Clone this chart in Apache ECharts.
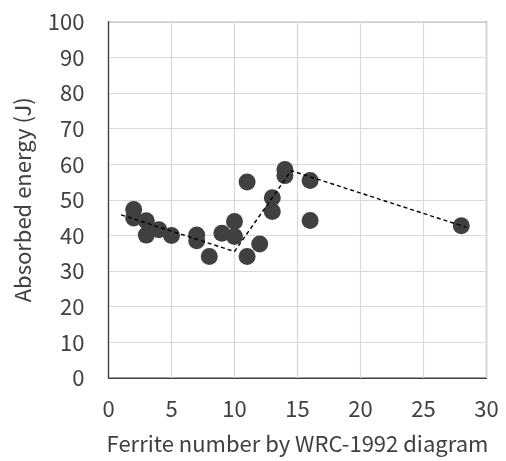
<!DOCTYPE html>
<html>
<head>
<meta charset="utf-8">
<script src="https://cdn.jsdelivr.net/npm/echarts@6/dist/echarts.min.js"></script>
<style>
  html, body { margin: 0; padding: 0; background: #fff; }
  #chart { width: 506px; height: 461px; }
</style>
</head>
<body>
<div id="chart"></div>
<script>
// Ferrite number (WRC-1992) vs. Charpy absorbed energy
const ferriteNumber = [2, 2, 3, 3, 4, 5, 7, 7, 8, 9, 10, 10, 11, 11, 12, 13, 13, 14, 14, 16, 16, 28];
const absorbedEnergy = [47.3, 44.9, 44.1, 40.1, 41.6, 40.0, 40.1, 38.5, 34.1, 40.6, 43.9, 39.7, 55.0, 34.1, 37.6, 50.6, 46.7, 58.5, 56.8, 55.4, 44.2, 42.7];

// Dashed trend guide through the three regimes
const trendX = [1, 10, 14.5, 28.4];
const trendY = [45.8, 35.5, 58.2, 42.3];

const xTicks = { min: 0, max: 30, interval: 5 };
const yTicks = { min: 0, max: 100, interval: 10 };

const points = ferriteNumber.map((x, i) => [x, absorbedEnergy[i]]);
const trend = trendX.map((x, i) => [x, trendY[i]]);

const fontFamily = '"Noto Sans CJK JP", "Noto Sans", sans-serif';
const textColor = '#404040';
const fontSize = 22;

const chart = echarts.init(document.getElementById('chart'), null, { renderer: 'canvas' });
chart.setOption({
  animation: false,
  backgroundColor: '#ffffff',
  grid: { left: 108.5, right: 19.5, top: 21.7, bottom: 83, containLabel: false,
          show: true, borderColor: '#404040', borderWidth: 1.2 },
  xAxis: {
    type: 'value',
    min: xTicks.min, max: xTicks.max, interval: xTicks.interval,
    name: 'Ferrite number by WRC-1992 diagram',
    nameLocation: 'middle', nameGap: 55,
    nameTextStyle: { fontFamily, fontSize, color: textColor },
    axisLine: { show: true, onZero: false, lineStyle: { color: '#404040', width: 1.2 } },
    axisTick: { show: false },
    axisLabel: { margin: 20, fontFamily, fontSize, color: textColor },
    splitLine: { show: true, lineStyle: { color: '#d9d9d9', width: 1.2 } }
  },
  yAxis: {
    type: 'value',
    min: yTicks.min, max: yTicks.max, interval: yTicks.interval,
    name: 'Absorbed energy (J)',
    nameLocation: 'middle', nameGap: 75, nameRotate: 90,
    nameTextStyle: { fontFamily, fontSize, color: textColor },
    axisLine: { show: true, onZero: false, lineStyle: { color: '#404040', width: 1.2 } },
    axisTick: { show: false },
    axisLabel: { margin: 24, fontFamily, fontSize, color: textColor },
    splitLine: { show: true, lineStyle: { color: '#d9d9d9', width: 1.2 } }
  },
  series: [
    {
      type: 'scatter',
      data: points,
      symbol: 'circle',
      symbolSize: 17,
      itemStyle: { color: '#404040', opacity: 1 },
      z: 2
    },
    {
      type: 'line',
      data: trend,
      symbol: 'none',
      lineStyle: { color: '#000000', width: 1.4, type: [4, 3] },
      z: 3
    }
  ]
});
</script>
</body>
</html>
